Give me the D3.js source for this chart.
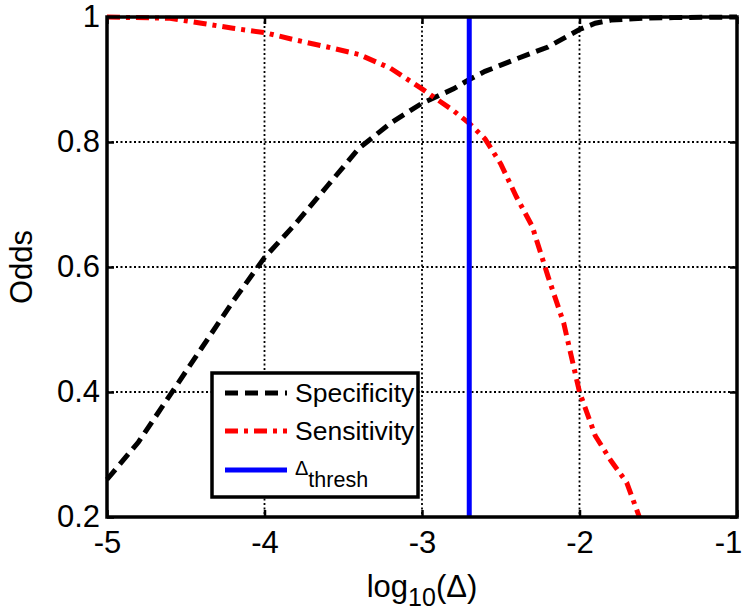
<!DOCTYPE html>
<html>
<head>
<meta charset="utf-8">
<script src="https://cdn.jsdelivr.net/npm/d3@7"></script>
<style>
  body { margin: 0; background: #fff; }
  text { font-family: Arial, "Liberation Sans", sans-serif; fill: #000; }
</style>
</head>
<body>
<svg width="744" height="610"></svg>
<script>
// data
var specX = [-5, -4.8, -4.6, -4.4, -4.2, -4.0, -3.8, -3.6, -3.4, -3.35, -3.2, -3.0, -2.8, -2.7, -2.6, -2.4, -2.2, -2.0, -1.9, -1.8, -1.6, -1.4, -1.0];
var specY = [0.26, 0.32, 0.395, 0.47, 0.545, 0.615, 0.67, 0.73, 0.79, 0.80, 0.83, 0.862, 0.885, 0.90, 0.913, 0.933, 0.952, 0.98, 0.99, 0.995, 0.998, 0.999, 1.0];

var sensX = [-5, -4.6, -4.4, -4.2, -4.0, -3.8, -3.6, -3.4, -3.2, -3.0, -2.8, -2.7, -2.6, -2.5, -2.4, -2.3, -2.2, -2.1, -2.0, -1.9, -1.8, -1.7, -1.62];
var sensY = [1.0, 0.998, 0.99, 0.982, 0.975, 0.963, 0.952, 0.94, 0.918, 0.885, 0.85, 0.83, 0.805, 0.765, 0.712, 0.665, 0.585, 0.51, 0.40, 0.33, 0.29, 0.255, 0.2];

var threshX = -2.70;

var xTicks = [-5, -4, -3, -2, -1];
var yTicks = [0.2, 0.4, 0.6, 0.8, 1];

var svg = d3.select("svg");
var pLeft = 107, pRight = 737, pTop = 17, pBottom = 517;

var x = d3.scaleLinear().domain([-5, -1]).range([pLeft, pRight]);
var y = d3.scaleLinear().domain([0.2, 1]).range([pBottom, pTop]);

// grid
var grid = svg.append("g").attr("class", "grid")
    .attr("stroke", "#000").attr("stroke-width", 1.8).attr("stroke-dasharray", "2,2.5");
grid.selectAll(".vg").data(xTicks.slice(1, -1)).enter().append("line")
    .attr("x1", function (d) { return x(d); }).attr("x2", function (d) { return x(d); })
    .attr("y1", pTop).attr("y2", pBottom);
grid.selectAll(".hg").data(yTicks.slice(1, -1)).enter().append("line")
    .attr("x1", pLeft).attr("x2", pRight)
    .attr("y1", function (d) { return y(d); }).attr("y2", function (d) { return y(d); });

// axes with inward ticks
function fmt(d) { return String(d); }
var xAxis = svg.append("g").attr("transform", "translate(0," + pBottom + ")")
    .call(d3.axisBottom(x).tickValues(xTicks).tickFormat(fmt).tickSize(-7).tickPadding(14));
var xTop = svg.append("g").attr("transform", "translate(0," + pTop + ")")
    .call(d3.axisTop(x).tickValues(xTicks).tickFormat("").tickSize(-7));
var yAxis = svg.append("g").attr("transform", "translate(" + pLeft + ",0)")
    .call(d3.axisLeft(y).tickValues(yTicks).tickFormat(fmt).tickSize(-7).tickPadding(7));
var yRight = svg.append("g").attr("transform", "translate(" + pRight + ",0)")
    .call(d3.axisRight(y).tickValues(yTicks).tickFormat("").tickSize(-7));

[xAxis, xTop, yAxis, yRight].forEach(function (g) {
    g.select(".domain").remove();
    g.selectAll(".tick line").attr("stroke", "#000").attr("stroke-width", 2.5);
    g.selectAll("text").style("font-size", "31px")
        .style("font-family", "Arial, 'Liberation Sans', sans-serif");
});
xAxis.selectAll("text").attr("dy", "0.72em");
// keep the last label inside the window, as in the figure
xAxis.selectAll(".tick text").filter(function (d) { return d === -1; }).attr("dx", -9);

// lines
var line = d3.line()
    .x(function (d) { return x(d[0]); })
    .y(function (d) { return y(d[1]); });

svg.append("path")
    .datum(d3.zip(specX, specY))
    .attr("fill", "none").attr("stroke", "#000").attr("stroke-width", 5)
    .attr("stroke-dasharray", "13,7")
    .attr("d", line);

svg.append("path")
    .datum(d3.zip(sensX, sensY))
    .attr("fill", "none").attr("stroke", "#ff0000").attr("stroke-width", 5)
    .attr("stroke-dasharray", "13,6,4,6")
    .attr("d", line);

svg.append("line")
    .attr("x1", x(threshX)).attr("x2", x(threshX))
    .attr("y1", pTop).attr("y2", pBottom)
    .attr("stroke", "#0000ff").attr("stroke-width", 5);

// frame
svg.append("rect")
    .attr("x", pLeft).attr("y", pTop)
    .attr("width", pRight - pLeft).attr("height", pBottom - pTop)
    .attr("fill", "none").attr("stroke", "#000").attr("stroke-width", 3.5);

// axis labels
svg.append("text")
    .attr("x", x(-3)).attr("y", 597)
    .attr("text-anchor", "middle").style("font-size", "31px")
    .html('log<tspan dy="9" font-size="25px">10</tspan><tspan dy="-9">(Δ)</tspan>');

svg.append("text")
    .attr("transform", "translate(32," + y(0.6) + ") rotate(-90)")
    .attr("text-anchor", "middle").style("font-size", "31px")
    .text("Odds");

// legend
var legend = svg.append("g").attr("class", "legend");
legend.append("rect")
    .attr("x", 212).attr("y", 373).attr("width", 206).attr("height", 124)
    .attr("fill", "#fff").attr("stroke", "#000").attr("stroke-width", 3.5);

var legendItems = [
    { label: "Specificity", color: "#000", dash: "13,7" },
    { label: "Sensitivity", color: "#ff0000", dash: "13,6,4,6" },
    { label: "thresh", color: "#0000ff", dash: null }
];
var rowY = [393, 431, 470];

legendItems.forEach(function (d, i) {
    legend.append("line")
        .attr("x1", 225).attr("x2", 287)
        .attr("y1", rowY[i]).attr("y2", rowY[i])
        .attr("stroke", d.color).attr("stroke-width", 5)
        .attr("stroke-dasharray", d.dash);
    var t = legend.append("text")
        .attr("x", 295).attr("y", rowY[i] + 9)
        .style("font-size", "26.5px");
    if (i < 2) {
        t.text(d.label);
    } else {
        t.attr("y", 475).style("font-size", "20px")
            .html('Δ<tspan dy="12" font-size="21.5px">thresh</tspan>');
    }
});
</script>
</body>
</html>
